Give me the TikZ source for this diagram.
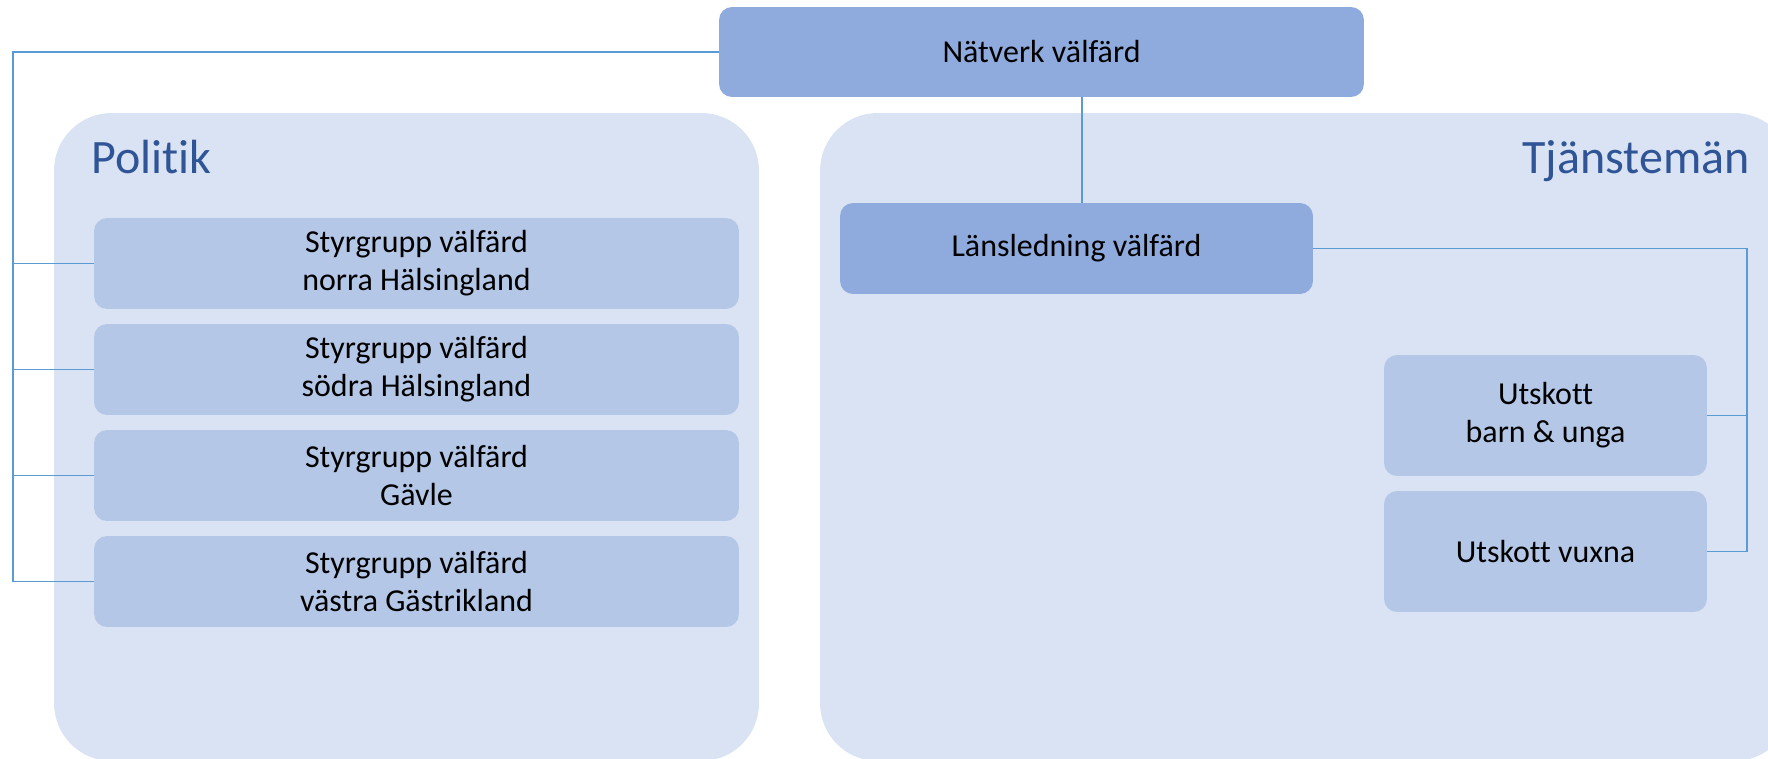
\documentclass[tikz,border=0pt]{standalone}
\usepackage{fontspec}
\setmainfont{Carlito}[RawFeature={-liga;-clig;-dlig;-calt}]
\usetikzlibrary{positioning}
\definecolor{darkbox}{HTML}{8FAADC}
\definecolor{midbox}{HTML}{B4C7E7}
\definecolor{lightbox}{HTML}{DAE3F3}
\definecolor{linkblue}{HTML}{5B9BD5}
\definecolor{titleblue}{HTML}{2F5597}
\tikzset{
  area/.style={fill=lightbox, rounded corners=1.15cm, inner sep=0pt},
  topbox/.style={fill=darkbox, rounded corners=0.26cm, align=center, inner sep=0pt,
    font=\fontsize{18.2}{21.6}\selectfont},
  subbox/.style={fill=midbox, rounded corners=0.26cm, align=center, inner sep=0pt,
    font=\fontsize{18.2}{21.6}\selectfont},
  areatitle/.style={text=titleblue, inner sep=0pt, font=\fontsize{27.3}{33}\selectfont},
  link/.style={draw=linkblue, line width=0.6pt}
}

\begin{document}
\begin{tikzpicture}[x=0.02cm, y=-0.02cm]
    \useasboundingbox (0,0) rectangle (1768,759);

    % background areas
    \node[area, minimum width=14.1cm, minimum height=12.96cm] (politik) at (406.5,437) {};
    \node[area, minimum width=19.44cm, minimum height=12.96cm] (tjanst) at (1306,437) {};
    \node[areatitle, anchor=base west] (politiktitle) at (91,174) {Politik};
    \node[areatitle, anchor=base east] (tjansttitle) at (1750,174) {Tjänstemän};

    % boxes
    \node[topbox, minimum width=12.9cm, minimum height=1.8cm] (natverk) at (1041.5,52) {Nätverk välfärd};
    \node[topbox, minimum width=9.46cm, minimum height=1.82cm] (lans) at (1076.5,248.5) {Länsledning välfärd};

    \node[subbox, minimum width=12.9cm, minimum height=1.82cm] (sg1) at (416.5,263.5) {Styrgrupp välfärd\\norra Hälsingland};
    \node[subbox, minimum width=12.9cm, minimum height=1.82cm] (sg2) at (416.5,369.5) {Styrgrupp välfärd\\södra Hälsingland};
    \node[subbox, minimum width=12.9cm, minimum height=1.82cm] (sg3) at (416.5,475.5) {Styrgrupp välfärd\\Gävle};
    \node[subbox, minimum width=12.9cm, minimum height=1.82cm] (sg4) at (416.5,581.5) {Styrgrupp välfärd\\västra Gästrikland};

    \node[subbox, minimum width=6.46cm, minimum height=2.42cm] (ut1) at (1545.5,415.5) {Utskott\\barn \& unga};
    \node[subbox, minimum width=6.46cm, minimum height=2.42cm] (ut2) at (1545.5,551.5) {Utskott vuxna};

    % connectors
    \coordinate (lbus) at (13,52);
    \coordinate (drop) at (1082,0);
    \coordinate (rbus) at (1747,0);

    \draw[link] (natverk.west) -- (lbus) |- (sg4.west);
    \foreach \n in {sg1, sg2, sg3}
        \draw[link] (\n.west) -- (lbus |- \n.west);
    \draw[link] (drop |- natverk.south) -- (drop |- lans.north);
    \draw[link] (lans.east) -| (rbus |- ut2.east) -- (ut2.east);
    \draw[link] (ut1.east) -- (rbus |- ut1.east);
\end{tikzpicture}
\end{document}
